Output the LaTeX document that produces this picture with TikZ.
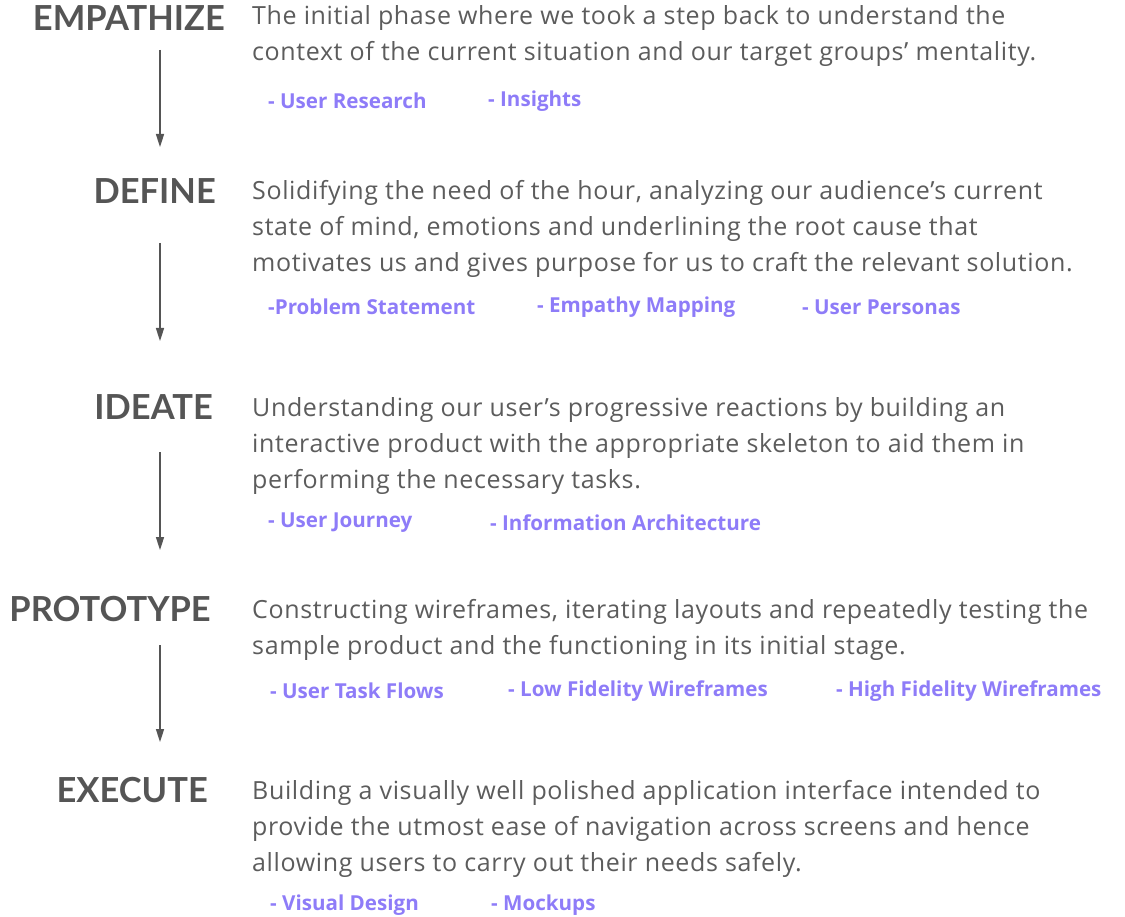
\documentclass[tikz,border=0pt]{standalone}
\usepackage{fontspec}
\setmainfont{Open Sans}
\newfontfamily\phasefont{Lato}
\newfontfamily\blurbfont[LetterSpace=2.5,Ligatures=TeX]{Open Sans}
\usetikzlibrary{arrows.meta,positioning}
\definecolor{titlegray}{HTML}{555555}
\definecolor{bodygray}{HTML}{5C5C5C}
\definecolor{tagpurple}{HTML}{8E7CF8}
\tikzset{
  phase/.style={anchor=east,inner sep=0pt,text=titlegray,font=\phasefont\fontsize{34.5}{36}\selectfont\bfseries},
  blurb/.style={anchor=north west,inner sep=0pt,align=left,text=bodygray,font=\blurbfont\fontsize{25}{36}\selectfont},
  tag/.style={anchor=west,inner sep=0pt,text=tagpurple,font=\fontsize{20.6}{22}\selectfont\bfseries},
  flow/.style={draw=titlegray,line width=1.6pt,-{Triangle[width=8pt,length=13pt]}}
}
\begin{document}
\begin{tikzpicture}[x=1pt,y=-1pt]
  \useasboundingbox (0,0) rectangle (1125,917);

  % Empathize
  \node[phase] (empathize) at (225,18) {EMPATHIZE};
  \node[blurb] (empathizetxt) at (252,5) {The initial phase where we took a step back to understand the\\context of the current situation and our target groups’ mentality.};
  \node[tag] (t11) at (268,101) {- User Research};
  \node[tag] (t12) at (488,101) {- Insights};

  % Define
  \node[phase] (define) at (216,191) {DEFINE};
  \node[blurb] (definetxt) at (252,180) {Solidifying the need of the hour, analyzing our audience’s current\\state of mind, emotions and underlining the root cause that\\motivates us and gives purpose for us to craft the relevant solution.};
  \node[tag] (t21) at (268,307) {-Problem Statement};
  \node[tag] (t22) at (537,307) {- Empathy Mapping};
  \node[tag] (t23) at (802,307) {- User Personas};

  % Ideate
  \node[phase] (ideate) at (213,407) {IDEATE};
  \node[blurb] (ideatetxt) at (252,397) {Understanding our user’s progressive reactions by building an\\interactive product with the appropriate skeleton to aid them in\\performing the necessary tasks.};
  \node[tag] (t31) at (268,523) {- User Journey};
  \node[tag] (t32) at (490,523) {- Information Architecture};

  % Prototype
  \node[phase] (prototype) at (211,609) {PROTOTYPE};
  \node[blurb] (prototypetxt) at (252,599) {Constructing wireframes, iterating layouts and repeatedly testing the\\sample product and the functioning in its initial stage.};
  \node[tag] (t41) at (270,691) {- User Task Flows};
  \node[tag] (t42) at (508,691) {- Low Fidelity Wireframes};
  \node[tag] (t43) at (836,691) {- High Fidelity Wireframes};

  % Execute
  \node[phase] (execute) at (208,790) {EXECUTE};
  \node[blurb] (executetxt) at (252,780) {Building a visually well polished application interface intended to\\provide the utmost ease of navigation across screens and hence\\allowing users to carry out their needs safely.};
  \node[tag] (t51) at (270,905) {- Visual Design};
  \node[tag] (t52) at (491,905) {- Mockups};

  % arrows
  \coordinate (a1s) at (160,50);  \coordinate (a1e) at (160,147);
  \coordinate (a2s) at (160,243); \coordinate (a2e) at (160,341);
  \coordinate (a3s) at (160,452); \coordinate (a3e) at (160,550);
  \coordinate (a4s) at (160,645); \coordinate (a4e) at (160,742);
  \draw[flow] (a1s) -- (a1e);
  \draw[flow] (a2s) -- (a2e);
  \draw[flow] (a3s) -- (a3e);
  \draw[flow] (a4s) -- (a4e);
\end{tikzpicture}
\end{document}
